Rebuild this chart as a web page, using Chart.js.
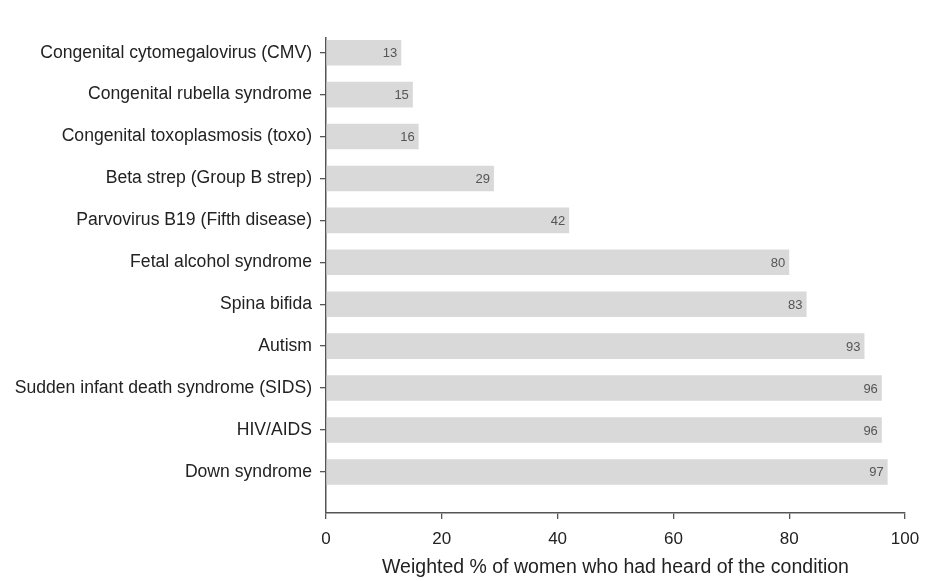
<!DOCTYPE html>
<html>
<head>
<meta charset="utf-8">
<script src="https://cdn.jsdelivr.net/npm/chart.js@4"></script>
<style>
  html, body { margin: 0; padding: 0; background: #fff; }
  #wrap { width: 926px; height: 581px; }
</style>
</head>
<body>
<div id="wrap"><canvas id="barChart" width="926" height="581"></canvas></div>
<script>
var conditions = [
    'Congenital cytomegalovirus (CMV)',
    'Congenital rubella syndrome',
    'Congenital toxoplasmosis (toxo)',
    'Beta strep (Group B strep)',
    'Parvovirus B19 (Fifth disease)',
    'Fetal alcohol syndrome',
    'Spina bifida',
    'Autism',
    'Sudden infant death syndrome (SIDS)',
    'HIV/AIDS',
    'Down syndrome'
];
var percentHeard = [13, 15, 16, 29, 42, 80, 83, 93, 96, 96, 97];
var xTicks = [0, 20, 40, 60, 80, 100];
var xTitle = 'Weighted % of women who had heard of the condition';

// print the value just inside the end of each bar
var valueLabels = {
    id: 'valueLabels',
    afterDatasetsDraw: function(chart) {
        var ctx = chart.ctx;
        var meta = chart.getDatasetMeta(0);
        ctx.save();
        ctx.font = '13px "Liberation Sans", Arial, sans-serif';
        ctx.fillStyle = '#555';
        ctx.textAlign = 'right';
        ctx.textBaseline = 'middle';
        meta.data.forEach(function(bar, i) {
            ctx.fillText(percentHeard[i], bar.x - 4, bar.y + 1);
        });
        ctx.restore();
    }
};

window.onload = function() {
    var ctx = document.getElementById('barChart').getContext('2d');
    new Chart(ctx, {
        type: 'bar',
        data: {
            datasets: [{
                data: percentHeard.map(function(v, i) { return { x: v, y: i }; }),
                backgroundColor: '#d9d9d9',
                borderWidth: 0,
                barPercentage: 0.61,
                categoryPercentage: 1
            }]
        },
        options: {
            indexAxis: 'y',
            responsive: false,
            animation: false,
            layout: { padding: { top: 38, right: 21, left: 0, bottom: 0 } },
            plugins: {
                legend: { display: false },
                tooltip: { enabled: false }
            },
            scales: {
                y: {
                    type: 'linear',
                    reverse: true,
                    offset: false,
                    min: -0.35,
                    max: 10.98,
                    afterBuildTicks: function(scale) {
                        scale.ticks = conditions.map(function(c, i) { return { value: i }; });
                    },
                    afterFit: function(scale) { scale.width = 326; },
                    ticks: {
                        padding: 8,
                        color: '#222',
                        font: { family: '"Liberation Sans", Arial, sans-serif', size: 17.6 },
                        callback: function(v) { return conditions[v]; }
                    },
                    grid: { offset: false, drawOnChartArea: false, tickLength: 6, color: '#555', lineWidth: 1.3 },
                    border: { color: '#555', width: 1.5 }
                },
                x: {
                    min: 0,
                    max: 100,
                    afterBuildTicks: function(scale) {
                        scale.ticks = xTicks.map(function(v) { return { value: v }; });
                    },
                    afterFit: function(scale) {
                        scale.height = 68;
                        scale.paddingLeft = 0;
                        scale.paddingRight = 0;
                    },
                    ticks: {
                        padding: 10,
                        color: '#222',
                        font: { family: '"Liberation Sans", Arial, sans-serif', size: 17 }
                    },
                    grid: { drawOnChartArea: false, tickLength: 6, color: '#555', lineWidth: 1.3 },
                    border: { color: '#555', width: 1.5 },
                    title: {
                        display: true,
                        text: xTitle,
                        color: '#222',
                        font: { family: '"Liberation Sans", Arial, sans-serif', size: 19.5 },
                        padding: { top: 4, bottom: 2 }
                    }
                }
            }
        },
        plugins: [valueLabels]
    });
};
</script>
</body>
</html>
